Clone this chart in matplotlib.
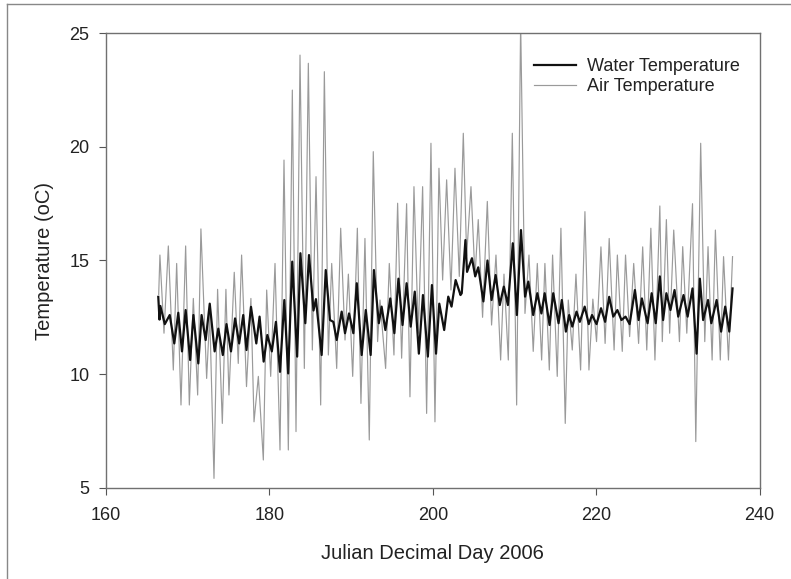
import matplotlib
matplotlib.use("Agg")
import matplotlib.pyplot as plt
from matplotlib.lines import Line2D

plt.rcParams['font.family'] = ['Liberation Sans', 'DejaVu Sans']

# Water temperature: daily peaks and troughs (day, degC)
water_day = [166.4, 166.55, 166.65, 167.2, 167.8, 168.36, 168.85, 169.3, 169.75, 170.3,
             170.7, 171.3, 171.7, 172.2, 172.7, 173.3, 173.75, 174.3, 174.75, 175.3,
             175.8, 176.3, 176.8, 177.2, 177.75, 178.4, 178.8, 179.3, 179.75, 180.3,
             180.8, 181.3, 181.83, 182.3, 182.8, 183.4, 183.8, 184.4, 184.85, 185.4,
             185.7, 186.4, 186.9, 187.42, 187.83, 188.24, 188.85, 189.26, 189.75, 190.28,
             190.7, 191.3, 191.8, 192.4, 192.8, 193.4, 193.74, 194.2, 194.8, 195.3,
             195.8, 196.3, 196.8, 197.3, 197.8, 198.3, 198.8, 199.4, 199.9, 200.4,
             200.8, 201.4, 201.9, 202.3, 202.8, 203.4, 203.55, 204.0, 204.2, 204.8,
             205.2, 205.57, 206.2, 206.7, 207.2, 207.7, 208.2, 208.7, 209.2, 209.8,
             210.3, 210.8, 211.3, 211.7, 212.3, 212.8, 213.3, 213.7, 214.3, 214.75,
             215.4, 215.8, 216.3, 216.7, 217.08, 217.6, 218.0, 218.6, 219.1, 219.5,
             220.05, 220.6, 221.1, 221.6, 222.1, 222.6, 223.1, 223.6, 224.1, 224.75,
             225.2, 225.6, 226.3, 226.8, 227.3, 227.8, 228.2, 228.6, 229.1, 229.6,
             230.05, 230.7, 231.2, 231.8, 232.3, 232.7, 233.1, 233.7, 234.1, 234.75,
             235.3, 235.8, 236.3, 236.7]
water_temp = [13.4, 12.4, 13.0, 12.2, 12.6, 11.35, 12.7, 11.0, 12.82, 10.62,
              12.6, 10.47, 12.6, 11.5, 13.1, 11.0, 12.0, 10.84, 12.2, 11.0,
              12.45, 11.35, 12.6, 11.06, 12.96, 11.35, 12.53, 10.55, 11.72, 11.0,
              12.3, 10.1, 13.26, 10.03, 14.95, 10.77, 15.32, 12.24, 15.24, 12.8,
              13.3, 10.84, 14.58, 12.38, 12.3, 11.5, 12.75, 11.8, 12.67, 11.8,
              14.0, 10.84, 12.82, 10.84, 14.58, 12.24, 12.97, 11.94, 13.33, 11.8,
              14.2, 12.16, 14.0, 12.09, 13.63, 10.9, 13.48, 10.77, 13.92, 10.9,
              13.1, 11.94, 13.41, 12.97, 14.14, 13.48, 13.56, 15.9, 14.5, 15.1,
              14.3, 14.7, 13.2, 15.0, 13.26, 14.36, 13.04, 13.85, 13.04, 15.76,
              12.6, 16.34, 13.41, 14.07, 12.6, 13.56, 12.67, 13.56, 12.16, 13.56,
              12.24, 13.26, 11.87, 12.6, 12.09, 12.75, 12.3, 12.97, 12.2, 12.6,
              12.2, 12.9, 12.3, 13.4, 12.53, 12.82, 12.38, 12.53, 12.2, 13.7,
              12.38, 13.33, 12.24, 13.56, 12.24, 14.3, 12.38, 13.56, 12.82, 13.7,
              12.53, 13.48, 12.53, 13.77, 10.9, 14.2, 12.38, 13.26, 12.24, 13.26,
              11.87, 12.97, 11.87, 13.77]

# Air temperature: daily peaks and troughs (day, degC)
air_day = [166.45, 166.6, 167.1, 167.63, 168.24, 168.65, 169.18, 169.75, 170.2, 170.69,
           171.22, 171.62, 172.32, 172.7, 173.22, 173.66, 174.24, 174.68, 175.05, 175.7,
           176.19, 176.6, 177.2, 177.74, 178.12, 178.65, 179.26, 179.67, 180.16, 180.69,
           181.3, 181.79, 182.32, 182.81, 183.26, 183.75, 184.28, 184.77, 185.26, 185.71,
           186.28, 186.73, 187.22, 187.63, 188.24, 188.73, 189.26, 189.67, 190.2, 190.77,
           191.21, 191.7, 192.23, 192.72, 193.25, 193.54, 194.23, 194.68, 195.25, 195.7,
           196.19, 196.8, 197.21, 197.7, 198.23, 198.76, 199.25, 199.78, 200.27, 200.76,
           201.21, 201.7, 202.23, 202.72, 203.25, 203.74, 204.15, 204.68, 205.17, 205.57,
           206.1, 206.68, 207.2, 207.74, 208.31, 208.72, 209.25, 209.74, 210.27, 210.76,
           211.29, 211.78, 212.3, 212.8, 213.33, 213.73, 214.27, 214.67, 215.24, 215.69,
           216.22, 216.59, 217.08, 217.53, 218.1, 218.63, 219.12, 219.6, 220.05, 220.59,
           221.1, 221.6, 222.2, 222.6, 223.2, 223.6, 224.1, 224.6, 225.2, 225.7,
           226.2, 226.7, 227.2, 227.8, 228.1, 228.6, 229.0, 229.5, 230.2, 230.6,
           231.1, 231.8, 232.2, 232.8, 233.3, 233.7, 234.2, 234.6, 235.2, 235.6,
           236.2, 236.7]
air_temp = [13.5, 15.24, 11.8, 15.64, 10.18, 14.87, 8.64, 15.64, 8.64, 13.33,
            9.08, 16.39, 9.81, 12.6, 5.41, 13.73, 7.83, 13.73, 9.08, 14.48,
            10.47, 15.24, 9.45, 13.33, 7.9, 9.9, 6.22, 13.7, 9.9, 14.87,
            6.66, 19.42, 6.66, 22.5, 7.47, 24.04, 10.25, 23.68, 11.06, 18.69,
            8.64, 23.31, 10.84, 14.87, 10.25, 16.42, 11.5, 14.4, 9.9, 16.42,
            8.71, 15.97, 7.1, 19.79, 11.43, 13.26, 10.25, 14.87, 10.84, 17.52,
            10.7, 17.5, 9.0, 18.25, 11.8, 18.25, 8.27, 20.16, 7.9, 19.06,
            14.14, 18.55, 13.7, 19.06, 14.3, 20.6, 15.2, 18.25, 14.3, 16.8,
            12.5, 17.6, 12.16, 15.24, 10.62, 14.4, 10.62, 20.6, 8.64, 25.5,
            12.67, 15.24, 11.0, 14.87, 10.62, 14.87, 10.18, 15.24, 9.9, 16.42,
            7.83, 13.26, 11.06, 14.4, 10.18, 17.15, 10.18, 13.3, 11.43, 15.6,
            11.35, 15.97, 11.06, 15.24, 11.0, 15.24, 11.65, 14.87, 11.35, 15.6,
            11.06, 16.42, 10.62, 17.4, 11.43, 16.8, 11.8, 16.34, 11.43, 15.61,
            11.8, 17.5, 7.03, 20.16, 11.43, 15.61, 10.62, 16.34, 10.62, 15.17,
            10.62, 15.17]

x_ticks = [160, 180, 200, 220, 240]
y_ticks = [5, 10, 15, 20, 25]

W, H = 791, 579
fig = plt.figure(figsize=(W / 100, H / 100), dpi=100)
ax = fig.add_axes([106 / W, 1 - 487.7 / H, (759.5 - 106) / W, (487.7 - 33.3) / H])

ax.plot(air_day, air_temp, color='#9a9a9a', lw=0.85, zorder=2, label='Air Temperature')
ax.plot(water_day, water_temp, color='#111111', lw=1.6, zorder=3, label='Water Temperature')

ax.set_xlim(160, 240)
ax.set_ylim(5, 25)
ax.set_xticks(x_ticks)
ax.set_yticks(y_ticks)
ax.tick_params(direction='out', length=5, width=0.8, color='#555555', labelsize=13,
               labelcolor='#222222')
ax.tick_params(axis='y', pad=7)
ax.tick_params(axis='x', pad=9)
for s in ax.spines.values():
    s.set_color('#707070')
    s.set_linewidth(1.0)

ax.set_xlabel('Julian Decimal Day 2006', fontsize=14.5, color='#222222', labelpad=14)
ax.set_ylabel('Temperature (oC)', fontsize=14.5, color='#222222', labelpad=11)

handles = [Line2D([], [], color='#111111', lw=1.6), Line2D([], [], color='#9a9a9a', lw=0.85)]
leg = ax.legend(handles, ['Water Temperature', 'Air Temperature'], frameon=False,
                fontsize=13, loc='upper left',
                bbox_to_anchor=((527 - 106) / (759.5 - 106), 1 - (51 - 33.3) / (487.7 - 33.3)),
                borderaxespad=0, handlelength=2.3, handletextpad=0.65, labelspacing=0.15)
for t in leg.get_texts():
    t.set_color('#222222')

# outer figure border (left and top edges)
fig.add_artist(Line2D([7 / W, 7 / W], [0, 1 - 4 / H], transform=fig.transFigure,
                      color='#888888', lw=1.0))
fig.add_artist(Line2D([7 / W, 1], [1 - 4 / H, 1 - 4 / H], transform=fig.transFigure,
                      color='#888888', lw=1.0))

fig.savefig('out.png', dpi=100)
